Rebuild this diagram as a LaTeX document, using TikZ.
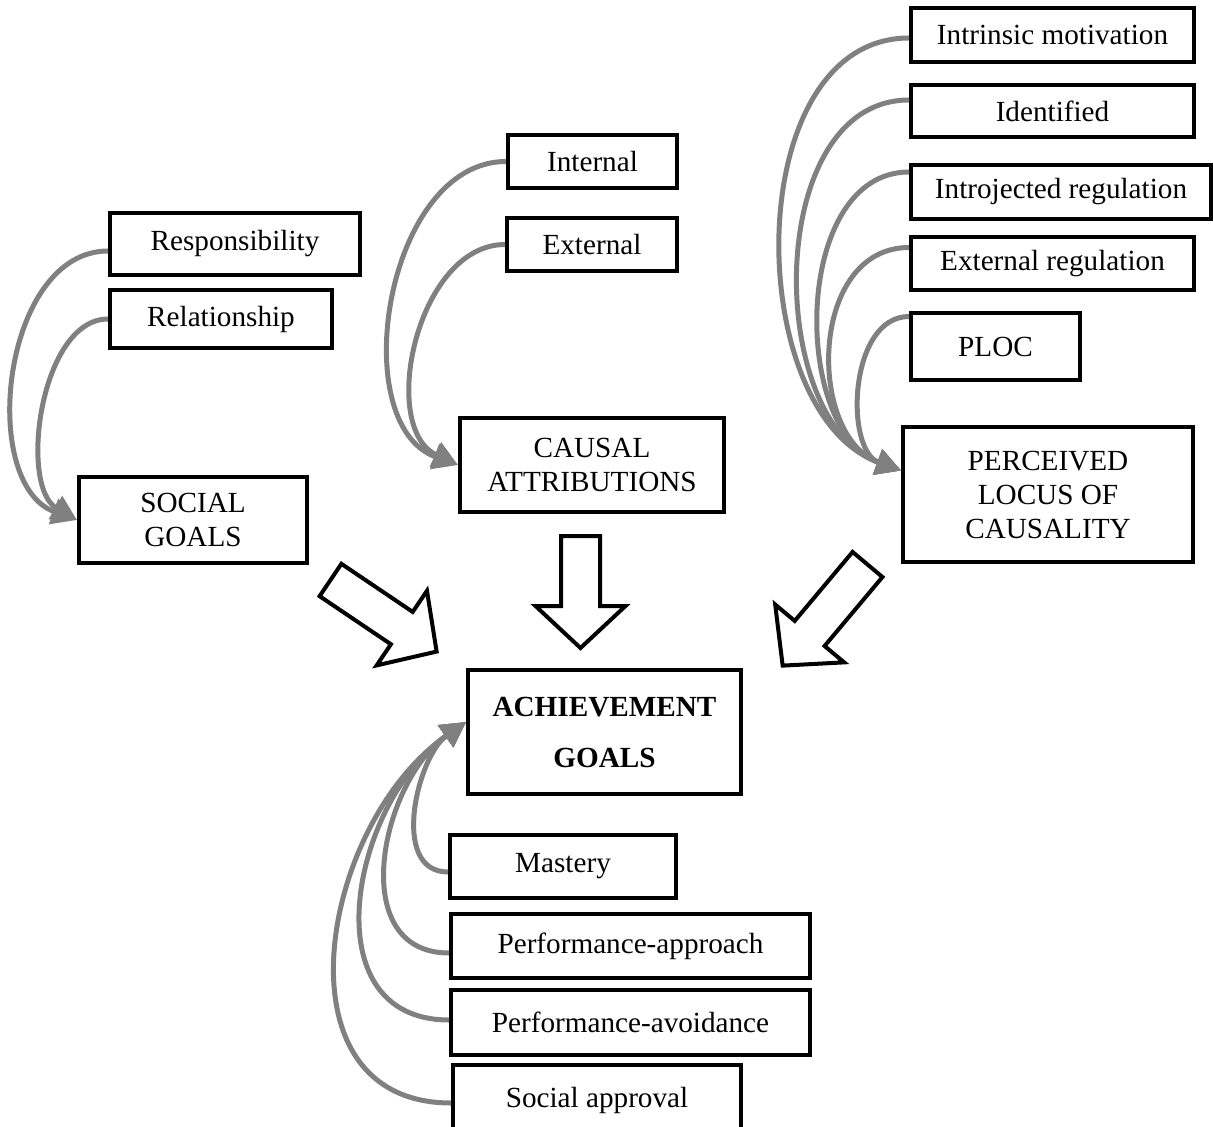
\documentclass[tikz,border=0pt]{standalone}
\usepackage{fontspec}
\setmainfont{Liberation Serif}
\usepackage{tikz}
\usetikzlibrary{arrows.meta}

\definecolor{linkgray}{RGB}{128,128,128}

\tikzset{
  box/.style={draw, line width=2pt, fill=white, inner sep=0pt, align=center,
    font=\fontsize{14.6}{17}\selectfont},
  link/.style={draw=linkgray, line width=2.5pt,
    -{Triangle[length=12.5pt,width=13pt]}},
  blockarrow/.style={draw, line width=2pt, fill=white, line join=miter}
}

\begin{document}
\begin{tikzpicture}[x=0.5pt,y=0.5pt]
    \useasboundingbox (0,0) rectangle (1213,-1127);

    % social goals
    \node[box, minimum width=125pt, minimum height=31pt] (resp) at (235,-244) {Responsibility};
    \node[box, minimum width=111pt, minimum height=29pt] (rel) at (221,-319) {Relationship};
    \node[box, minimum width=114pt, minimum height=43pt] (social) at (193,-520) {SOCIAL\\GOALS};

    % causal attributions
    \node[box, minimum width=84.5pt, minimum height=26.5pt] (intl) at (592.5,-161.5) {Internal};
    \node[box, minimum width=85pt, minimum height=26.5pt] (extl) at (592,-244.5) {External};
    \node[box, minimum width=132pt, minimum height=47pt] (causal) at (592,-465) {CAUSAL\\ATTRIBUTIONS};

    % perceived locus of causality
    \node[box, minimum width=141.5pt, minimum height=27pt] (intr) at (1052.5,-35) {Intrinsic motivation};
    \node[box, minimum width=141.5pt, minimum height=26pt] (iden) at (1052.5,-111) {Identified};
    \node[box, minimum width=150pt, minimum height=27pt] (introj) at (1061,-192) {Introjected regulation};
    \node[box, minimum width=141.5pt, minimum height=26.5pt] (extreg) at (1052.5,-263.5) {External regulation};
    \node[box, minimum width=84.5pt, minimum height=33.5pt] (ploc) at (995.5,-346.5) {PLOC};
    \node[box, minimum width=145pt, minimum height=67.5pt] (plc) at (1048,-494.5) {PERCEIVED\\LOCUS OF\\CAUSALITY};

    % achievement goals
    \node[box, minimum width=136.5pt, minimum height=62pt,
      font=\fontsize{14.6}{25.5}\selectfont\bfseries] (ach) at (604.5,-732) {ACHIEVEMENT\\GOALS};
    \node[box, minimum width=113pt, minimum height=31.5pt] (mast) at (563,-866.5) {Mastery};
    \node[box, minimum width=179.5pt, minimum height=32pt] (perfapp) at (630.5,-946) {Performance-approach};
    \node[box, minimum width=179.5pt, minimum height=32.5pt] (perfav) at (630.5,-1022.5) {Performance-avoidance};
    \node[box, minimum width=144pt, minimum height=35pt] (socapp) at (597,-1100) {Social approval};

    % curved links
    \draw[link] ([yshift=-3.5pt]resp.west) to[out=180,in=160] (social.west);
    \draw[link] (rel.west) to[out=180,in=150,looseness=0.85] (social.west);

    \draw[link] (intl.west) to[out=180,in=160] (causal.west);
    \draw[link] (extl.west) to[out=180,in=155] (causal.west);

    \draw[link] ([yshift=-1.5pt]intr.west) to[out=180,in=160] ([yshift=12pt]plc.west);
    \draw[link] ([yshift=5.5pt]iden.west) to[out=180,in=160] ([yshift=12pt]plc.west);
    \draw[link] ([yshift=10pt]introj.west) to[out=180,in=160] ([yshift=12pt]plc.west);
    \draw[link] ([yshift=8pt]extreg.west) to[out=180,in=160,looseness=1.15] ([yshift=12pt]plc.west);
    \draw[link] ([yshift=15pt]ploc.west) to[out=180,in=160] ([yshift=12pt]plc.west);

    \draw[link] ([yshift=-2.75pt]mast.west) to[out=180,in=215] ([yshift=5pt]ach.west);
    \draw[link] ([yshift=-3.5pt]perfapp.west) to[out=180,in=215,looseness=1.15] ([yshift=5pt]ach.west);
    \draw[link] ([yshift=1.25pt]perfav.west) to[out=180,in=215,looseness=1.2] ([yshift=5pt]ach.west);
    \draw[link] ([yshift=-1.5pt]socapp.west) to[out=180,in=215,looseness=1.2] ([yshift=5pt]ach.west);

    % block arrows into achievement goals
    \foreach \bx/\by/\ang/\len in {330.5/-580/-34/128, 580.5/-536/-90/112, 867.5/-564.5/-130/132}
      \draw[blockarrow, shift={(\bx,\by)}, rotate=\ang]
        (0,19.5) -- (\len-42,19.5) -- (\len-42,45) -- (\len,0)
        -- (\len-42,-45) -- (\len-42,-19.5) -- (0,-19.5) -- cycle;
\end{tikzpicture}
\end{document}
